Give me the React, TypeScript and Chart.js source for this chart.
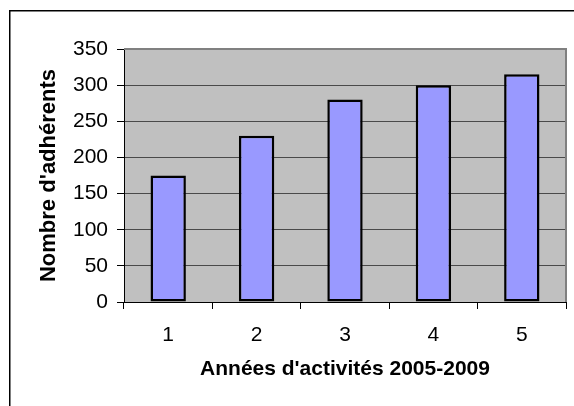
import React, { useEffect, useRef } from "react";
import { Chart, registerables } from "chart.js";

Chart.register(...registerables);

const categories = ["1", "2", "3", "4", "5"];
const adherents = [175, 230, 280, 300, 315];
const yTitle = "Nombre d'adhérents";
const xTitle = "Années d'activités 2005-2009";

const FONT = "'Liberation Sans', Arial, sans-serif";

const decorPlugin = {
  id: "decor",
  beforeDraw(chart: any) {
    const { ctx, chartArea } = chart;
    ctx.save();
    ctx.fillStyle = "#ffffff";
    ctx.fillRect(0, 0, chart.width, chart.height);
    // outer frame
    ctx.strokeStyle = "#000000";
    ctx.lineWidth = 1.5;
    ctx.beginPath();
    ctx.moveTo(9.75, chart.height + 2);
    ctx.lineTo(9.75, 10.75);
    ctx.lineTo(chart.width + 2, 10.75);
    ctx.stroke();
    // plot background
    ctx.fillStyle = "#C0C0C0";
    ctx.fillRect(chartArea.left, chartArea.top, chartArea.right - chartArea.left, chartArea.bottom - chartArea.top);
    ctx.restore();
  },
  beforeDatasetsDraw(chart: any) {
    const { ctx, chartArea } = chart;
    ctx.save();
    ctx.strokeStyle = "#808080";
    ctx.lineWidth = 2;
    ctx.beginPath();
    ctx.moveTo(chartArea.left, chartArea.top);
    ctx.lineTo(chartArea.right, chartArea.top);
    ctx.lineTo(chartArea.right, chartArea.bottom);
    ctx.stroke();
    ctx.restore();
  },
};

export default function App() {
  const ref = useRef<HTMLCanvasElement | null>(null);
  useEffect(() => {
    if (!ref.current) return;
    const chart = new Chart(ref.current, {
      type: "bar",
      data: {
        labels: categories,
        datasets: [
          {
            data: adherents,
            backgroundColor: "#9999FF",
            borderColor: "#000000",
            borderWidth: 2.5,
            borderSkipped: false,
            barPercentage: 0.4,
            categoryPercentage: 1,
          },
        ],
      },
      options: {
        animation: false,
        responsive: false,
        devicePixelRatio: 1,
        layout: { padding: { top: 49, right: 8, left: 0, bottom: 0 } },
        plugins: { legend: { display: false }, tooltip: { enabled: false } },
        scales: {
          x: {
            afterFit: (s: any) => {
              s.height = 104;
            },
            grid: {
              display: true,
              drawOnChartArea: false,
              drawTicks: true,
              tickLength: 7,
              tickColor: "#000",
              offset: true,
            },
            border: { display: true, color: "#000", width: 1 },
            ticks: { color: "#000", font: { family: FONT, size: 21 }, padding: 14 },
            title: {
              display: true,
              text: xTitle,
              color: "#000",
              font: { family: FONT, size: 21, weight: "bold" },
              padding: { top: 0, bottom: 24 },
            },
          },
          y: {
            min: 0,
            max: 350,
            afterFit: (s: any) => {
              s.width = 124;
            },
            grid: {
              color: "#4a4a4a",
              lineWidth: 1,
              drawTicks: true,
              tickLength: 7,
              tickColor: "#000",
            },
            border: { display: true, color: "#000", width: 1 },
            ticks: { stepSize: 50, color: "#000", font: { family: FONT, size: 21 }, padding: 9 },
            title: {
              display: true,
              text: yTitle,
              color: "#000",
              font: { family: FONT, size: 22, weight: "bold" },
              padding: { top: 36, bottom: 0 },
            },
          },
        },
      },
      plugins: [decorPlugin],
    } as any);
    return () => chart.destroy();
  }, []);
  return (
    <div style={{ position: "fixed", left: 0, top: 0, width: 574, height: 406, background: "#fff" }}>
      <canvas ref={ref} width={574} height={406} style={{ display: "block", width: 574, height: 406 }} />
    </div>
  );
}
